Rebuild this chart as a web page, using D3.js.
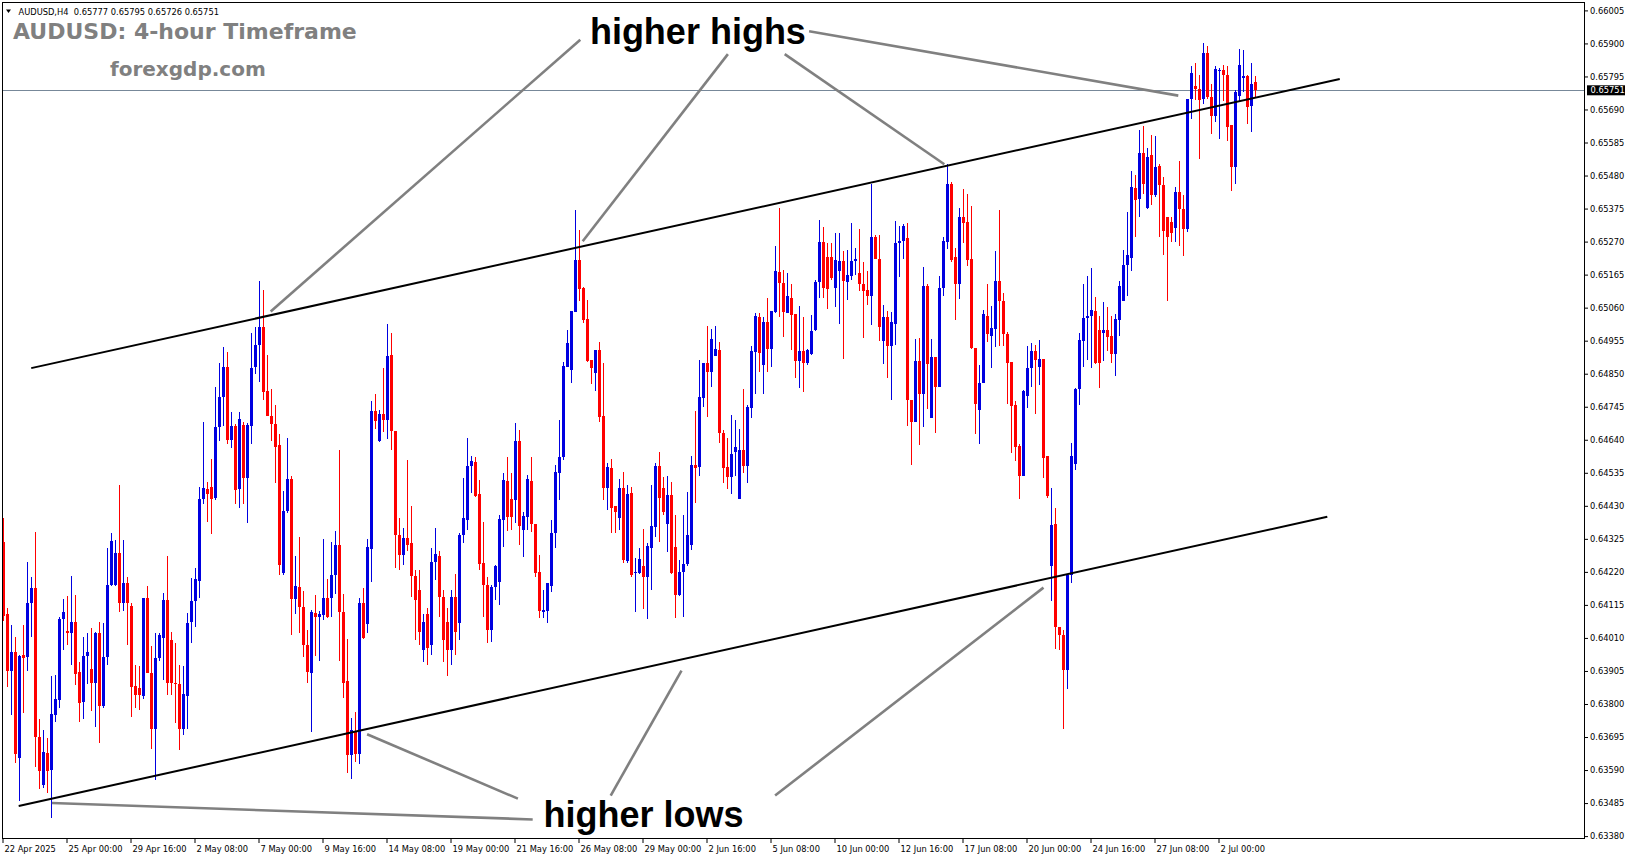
<!DOCTYPE html>
<html>
<head>
<meta charset="utf-8">
<script src="https://cdn.jsdelivr.net/npm/d3@7"></script>
<style>
html,body{margin:0;padding:0;background:#fff;overflow:hidden;}
svg{display:block;}
</style>
</head>
<body>
<svg id="chart" width="1631" height="861"></svg>
<script>
// ---------------- DATA (prices in points: value / 100000) ----------------
const symbol = "AUDUSD,H4";
const title = "AUDUSD: 4-hour Timeframe";
const site = "forexgdp.com";

const opens = [
64315,64086,63905,63966,63627,63956,63950,64121,64169,63696,
63541,63645,63591,63766,63813,64071,64032,64026,64061,63902,
63807,63951,63912,63868,64026,63795,63950,64178,64178,64281,
64122,64185,64112,63857,63851,63826,64137,63898,63722,63945,
64011,64131,64003,63868,63862,63721,63824,64062,64128,64192,
64451,64483,64490,64456,64681,64776,64871,64639,64683,64483,
64688,64518,64685,64871,64940,64999,64794,64717,64689,64622,
64215,64412,64514,64135,64173,64108,63987,63899,64089,64078,
64084,64138,64138,64211,64305,64094,63872,63638,63711,63642,
64120,64055,64294,64733,64635,64722,64703,64909,64668,64338,
64275,64327,64311,64207,64163,63972,64087,63988,64252,64271,
64140,64061,63972,64140,64058,64337,64385,64557,64570,64468,
64248,64178,64035,64172,64188,64385,64509,64452,64449,64636,
64353,64394,64509,64372,64219,64093,64096,64175,64344,64534,
64585,64871,64862,65046,65211,65122,65024,64894,64852,64925,
64716,64487,64550,64429,64392,64487,64255,64471,64216,64216,
64239,64204,64296,64363,64557,64487,64372,64465,64299,64147,
64220,64245,64305,64560,64553,64773,64884,64855,64906,64925,
64662,64553,64522,64601,64452,64608,64557,64741,64919,65030,
64878,65014,64929,65046,65173,65138,65043,65091,65040,64890,
64922,64884,64913,64989,65142,65269,65221,65221,65122,65176,
65208,65142,65162,65208,65170,65135,65116,65097,65285,65215,
64954,65030,64938,65008,65266,65272,65280,64768,64697,64890,
64785,65129,64709,64903,64808,65122,65269,65453,65221,65135,
65348,65332,65215,64932,64735,64820,65034,64970,64992,65145,
65081,64976,64887,64751,64620,64525,64779,64868,64922,64871,
64897,64588,64239,64372,64045,64020,63908,64210,64563,64801,
64954,65027,65032,65049,64989,64978,64989,64970,64913,65021,
65081,65196,65218,65440,65405,65552,65377,65545,65418,65510,
65450,65347,65332,65313,65428,65374,65310,65723,65765,65755,
65723,65870,65730,65669,65811,65815,65800,65641,65506,65733,
65790,65796,65701,65777];

const highs = [
64392,64106,64052,64013,63956,64052,64250,64205,64347,63753,
63718,63693,63889,63891,64078,64134,64144,64207,64147,63934,
64014,64026,64043,64029,64061,64058,64296,64345,64321,64495,
64321,64203,64121,63925,63922,64137,64175,63985,64026,64027,
64154,64271,64029,63995,63925,63922,64090,64201,64232,64491,
64698,64506,64579,64808,64884,64936,64919,64728,64690,64728,
64697,64694,64980,64999,65144,65116,64911,64801,64749,64659,
64478,64645,64524,64270,64331,64160,64036,64100,64147,64095,
64325,64196,64314,64349,64608,64150,64007,63756,63775,64136,
64169,64325,64764,64784,64736,64867,65008,64980,64668,64390,
64360,64575,64429,64226,64226,64087,64106,64296,64360,64287,
64163,64106,64163,64213,64343,64518,64646,64589,64586,64512,
64379,64204,64178,64242,64401,64534,64585,64534,64693,64671,
64411,64528,64585,64372,64274,64163,64185,64385,64560,64703,
64887,64989,65049,65370,65307,65126,65084,64894,64925,64951,
64884,64566,64579,64429,64515,64537,64496,64490,64264,64296,
64356,64312,64496,64566,64601,64522,64525,64506,64401,64258,
64401,64474,64588,64731,64894,64884,65002,64992,65002,64951,
64671,64646,64719,64703,64674,64801,64751,64938,65043,65043,
65030,65091,65049,65256,65377,65180,65170,65135,65040,65065,
65030,64929,65037,65148,65339,65316,65266,65266,65297,65297,
65240,65243,65329,65250,65310,65205,65176,65453,65292,65292,
65070,65049,65046,65335,65320,65326,65329,64768,64960,64963,
65189,65135,64960,64903,65162,65285,65517,65459,65250,65377,
65437,65421,65383,64932,64878,65053,65135,65065,65240,65370,
65108,64983,64887,64763,64627,64798,64938,64948,64941,64957,
64897,64588,64487,64423,64045,64035,64210,64630,64803,64980,
65135,65161,65186,65095,65032,65078,65062,65034,65040,65145,
65243,65364,65494,65482,65625,65637,65568,65609,65606,65517,
65475,65348,65347,65444,65526,65418,65723,65828,65838,65800,
65901,65892,65771,65828,65822,65831,65828,65641,65752,65882,
65879,65800,65838,65795];

const lows = [
64064,63854,63765,63613,63490,63772,63906,64014,63601,63530,
63534,63517,63438,63744,63788,63972,63988,63925,63861,63744,
63753,63864,63778,63727,63677,63788,63925,64176,64175,64094,
64097,63987,63759,63788,63781,63816,63898,63657,63559,63938,
63877,63829,63829,63741,63654,63702,63720,63995,64046,64138,
64435,64380,64339,64449,64637,64683,64628,64615,64437,64424,
64435,64375,64626,64848,64825,64766,64714,64637,64503,64210,
64210,64407,64020,64085,64026,63949,63868,63711,63952,63936,
64067,64072,64078,64150,63936,63820,63581,63561,63615,63610,
64007,64026,64188,64673,64633,64665,64642,64609,64231,64226,
64243,64287,64141,64004,63988,63934,63924,63956,64194,64077,
63934,63889,63924,63956,64004,64312,64353,64471,64458,64226,
64077,63994,63997,64131,64115,64299,64350,64353,64375,64305,
64268,64353,64347,64204,64074,64074,64058,64156,64296,64449,
64576,64871,64820,65046,65081,65011,64887,64817,64795,64696,
64449,64417,64344,64344,64353,64248,64248,64204,64093,64213,
64102,64071,64163,64331,64315,64401,64283,64213,64074,64143,
64077,64239,64290,64439,64525,64744,64712,64808,64906,64630,
64503,64484,64468,64525,64452,64534,64503,64709,64785,64855,
64785,64855,64871,65043,65030,64967,65043,64925,64836,64805,
64792,64878,64909,64986,65091,65091,65056,65148,65062,65008,
64897,65084,65148,65164,65113,64963,65070,65005,65215,64954,
64881,64836,64766,64941,65157,65215,64684,64560,64697,64623,
64681,64738,64709,64662,64808,65097,65246,65205,65021,65088,
65266,65192,64929,64658,64626,64820,64951,64868,64935,64938,
64938,64754,64598,64573,64452,64525,64741,64808,64722,64814,
64518,64455,64128,63975,63972,63721,63849,64185,64544,64750,
64871,64894,64868,64882,64803,64890,64922,64884,64843,64970,
65081,65097,65177,65285,65348,65421,65374,65386,65412,65285,
65227,65081,65269,65269,65256,65224,65300,65660,65720,65533,
65707,65723,65612,65650,65596,65717,65590,65431,65453,65717,
65744,65644,65618,65726];

const closes = [
64080,63905,63966,63641,63953,63947,64122,64169,63695,63588,
63648,63588,63769,63816,64071,64093,64026,64061,63896,63804,
63953,63966,63868,64026,63795,63950,64178,64318,64281,64121,
64185,64120,63855,63829,63829,64137,63898,63722,63947,64020,
64131,63868,63866,63862,63722,63832,64059,64128,64197,64451,
64486,64468,64451,64680,64776,64871,64639,64683,64481,64706,
64518,64687,64868,64940,64999,64793,64716,64689,64617,64243,
64412,64514,64135,64175,64108,63987,63903,64091,64078,64087,
64138,64078,64211,64305,64091,63866,63638,63718,63642,64120,
64009,64299,64733,64700,64722,64703,64906,64667,64338,64275,
64327,64305,64207,64131,64029,64061,63978,64252,64277,64140,
64004,63972,64140,64029,64337,64391,64557,64573,64462,64245,
64178,64035,64172,64239,64388,64512,64394,64394,64636,64366,
64398,64515,64372,64216,64096,64099,64185,64344,64537,64585,
64875,64948,65049,65211,65119,65021,64890,64868,64925,64712,
64487,64553,64423,64410,64487,64258,64468,64210,64220,64261,
64204,64302,64366,64557,64455,64410,64465,64216,64147,64220,
64245,64337,64560,64550,64776,64884,64855,64960,64929,64662,
64550,64522,64595,64617,64608,64557,64744,64922,65034,64916,
65014,64929,65049,65176,65138,65046,65097,65037,64890,64922,
64884,64925,64986,65142,65269,65122,65119,65154,65211,65208,
65145,65164,65208,65215,65135,65113,65097,65285,65215,64999,
65030,64938,65014,65266,65272,65320,64768,64697,64890,64785,
65129,64881,64903,64808,65122,65272,65453,65211,65135,65348,
65329,65211,64932,64754,64820,65040,64976,64995,65145,65081,
64976,64884,64747,64617,64525,64795,64868,64922,64894,64897,
64582,64461,64368,64045,64020,63908,64210,64588,64801,64957,
65027,65032,65053,64885,64885,64989,64967,64913,65024,65129,
65196,65227,65444,65402,65552,65453,65539,65418,65507,65450,
65304,65285,65297,65428,65374,65310,65723,65806,65755,65720,
65870,65730,65669,65819,65815,65800,65634,65506,65746,65831,
65796,65698,65771,65751];

const timeLabelIndex = [0,16,32,48,64,80,96,112,128,144,160,176,192,208,224,240,256,272,288,304];
const timeLabels = ["22 Apr 2025","25 Apr 00:00","29 Apr 16:00","2 May 08:00","7 May 00:00",
  "9 May 16:00","14 May 08:00","19 May 00:00","21 May 16:00","26 May 08:00","29 May 00:00",
  "2 Jun 16:00","5 Jun 08:00","10 Jun 00:00","12 Jun 16:00","17 Jun 08:00","20 Jun 00:00",
  "24 Jun 16:00","27 Jun 08:00","2 Jul 00:00"];

const priceTicks = [0.66005,0.65900,0.65795,0.65690,0.65585,0.65480,0.65375,0.65270,0.65165,
  0.65060,0.64955,0.64850,0.64745,0.64640,0.64535,0.64430,0.64325,0.64220,0.64115,0.64010,
  0.63905,0.63800,0.63695,0.63590,0.63485,0.63380];

const bidPrice = 0.65751;

// trend lines: [candle index, price]
const channelUpper = [[6.93, 0.648678],[334.07, 0.657869]];
const channelLower = [[3.80, 0.634760],[330.95, 0.643951]];
const highPointers = [
  [[144.2, 0.65912],[66.8, 0.65048]],
  [[181.1, 0.65866],[144.8, 0.65271]],
  [[195.3, 0.65866],[235.2, 0.65516]],
  [[201.4, 0.65939],[293.7, 0.65734]]
];
const lowPointers = [
  [[132.3, 0.63433],[12.1, 0.63485]],
  [[128.6, 0.63499],[90.9, 0.63704]],
  [[151.8, 0.63509],[169.5, 0.63906]],
  [[192.9, 0.63509],[260.0, 0.64170]]
];
const notes = [
  {text:"higher highs", i:173.6, p:0.65897},
  {text:"higher lows",  i:160.0, p:0.63408}
];

// ---------------- CHART ----------------
const W = 1631, H = 861;
const plot = {left:2.5, right:1584.5, top:2.5, bottom:838.5};
const n = Math.min(opens.length, highs.length, lows.length, closes.length);
const pt = v => v / 100000;

const x = d3.scaleLinear().domain([0, 313]).range([3.5, 1255.5]);
const y = d3.scaleLinear().domain([0.63380, 0.66005]).range([836.1, 10.4]);

const svg = d3.select("#chart");
svg.append("rect").attr("width", W).attr("height", H).attr("fill", "#ffffff");

const defs = svg.append("defs");
defs.append("clipPath").attr("id","plotclip").append("rect")
  .attr("x", plot.left).attr("y", plot.top)
  .attr("width", plot.right - plot.left).attr("height", plot.bottom - plot.top);

const g = svg.append("g").attr("clip-path","url(#plotclip)");

// bid line
const yb = Math.round(y(bidPrice)) + 0.5;
g.append("line").attr("x1", plot.left).attr("x2", plot.right)
  .attr("y1", yb).attr("y2", yb).attr("stroke", "#778899").attr("stroke-width", 1);

// candles
const BULL = "#0000e0", BEAR = "#ff0000";
const idx = d3.range(n);
const cg = g.append("g").attr("shape-rendering","crispEdges");
cg.selectAll("rect.wick").data(idx).join("rect")
  .attr("class","wick")
  .attr("x", i => x(i) - 0.5).attr("width", 1)
  .attr("y", i => y(pt(Math.max(highs[i], opens[i], closes[i]))))
  .attr("height", i => Math.max(1, y(pt(Math.min(lows[i], opens[i], closes[i]))) - y(pt(Math.max(highs[i], opens[i], closes[i])))))
  .attr("fill", i => closes[i] >= opens[i] ? BULL : BEAR);
cg.selectAll("rect.body").data(idx).join("rect")
  .attr("class","body")
  .attr("x", i => x(i) - 1.5).attr("width", 3)
  .attr("y", i => y(pt(Math.max(opens[i], closes[i]))))
  .attr("height", i => Math.max(1, Math.abs(y(pt(opens[i])) - y(pt(closes[i])))))
  .attr("fill", i => closes[i] >= opens[i] ? BULL : BEAR);

// channel lines
const lineGen = d3.line().x(d => x(d[0])).y(d => y(d[1]));
[channelUpper, channelLower].forEach(seg => {
  g.append("path").attr("d", lineGen(seg)).attr("stroke", "#000").attr("stroke-width", 2).attr("fill","none");
});
// pointer lines
[...highPointers, ...lowPointers].forEach(seg => {
  g.append("path").attr("d", lineGen(seg)).attr("stroke", "#808080").attr("stroke-width", 2.6).attr("fill","none");
});

// notes
notes.forEach(nt => {
  svg.append("text").attr("x", x(nt.i)).attr("y", y(nt.p))
    .attr("text-anchor","middle")
    .attr("font-family","'Liberation Sans', Arial, sans-serif")
    .attr("font-weight","bold").attr("font-size", 36).attr("fill","#000")
    .text(nt.text);
});

// frame
svg.append("rect").attr("x", plot.left).attr("y", plot.top)
  .attr("width", plot.right - plot.left).attr("height", plot.bottom - plot.top)
  .attr("fill","none").attr("stroke","#000").attr("stroke-width",1)
  .attr("shape-rendering","crispEdges");

const smallFont = "'DejaVu Sans', Verdana, sans-serif";

// right price axis
const yAxis = d3.axisRight(y).tickValues(priceTicks).tickSize(4).tickPadding(2)
  .tickFormat(d3.format(".5f"));
const ya = svg.append("g").attr("transform", `translate(${plot.right - 0.5},0)`).call(yAxis);
ya.select(".domain").remove();
ya.attr("font-family", smallFont).attr("font-size", 8.3);
ya.selectAll("text").attr("fill","#000");

// bid price box
const bg = svg.append("g");
bg.append("rect").attr("x", 1587).attr("y", y(bidPrice) - 5).attr("width", 38).attr("height", 10).attr("fill","#000");
bg.append("text").attr("x", 1590.5).attr("y", y(bidPrice)).attr("dy","0.35em")
  .attr("font-family", smallFont).attr("font-size", 8.3).attr("fill","#fff")
  .text(d3.format(".5f")(bidPrice));

// bottom time axis
const xAxis = d3.axisBottom(x).tickValues(timeLabelIndex).tickSize(5)
  .tickFormat((d, k) => timeLabels[k]);
const xa = svg.append("g").attr("transform", `translate(-1,${plot.bottom - 0.5})`).call(xAxis);
xa.select(".domain").remove();
xa.attr("font-family", smallFont).attr("font-size", 8.3);
xa.selectAll("text").attr("text-anchor","start").attr("x", 1.5).attr("y", 14).attr("dy", null).attr("fill","#000");

// header
svg.append("path").attr("d","M6,9.5 L11,9.5 L8.5,13 Z").attr("fill","#000");
const last = n - 1;
svg.append("text").attr("x", 18.5).attr("y", 14.5)
  .attr("font-family", smallFont).attr("font-size", 8.3).attr("fill","#000")
  .attr("xml:space","preserve").style("white-space","pre")
  .text(`${symbol}  ${d3.format(".5f")(pt(opens[last]))} ${d3.format(".5f")(pt(highs[last]))} ${d3.format(".5f")(pt(lows[last]))} ${d3.format(".5f")(pt(closes[last]))}`);

svg.append("text").attr("x", 13).attr("y", 39)
  .attr("font-family", smallFont).attr("font-weight","bold").attr("font-size", 22)
  .attr("fill","#808080").text(title);
svg.append("text").attr("x", 110).attr("y", 76)
  .attr("font-family", smallFont).attr("font-weight","bold").attr("font-size", 20)
  .attr("fill","#808080").text(site);
</script>
</body>
</html>
